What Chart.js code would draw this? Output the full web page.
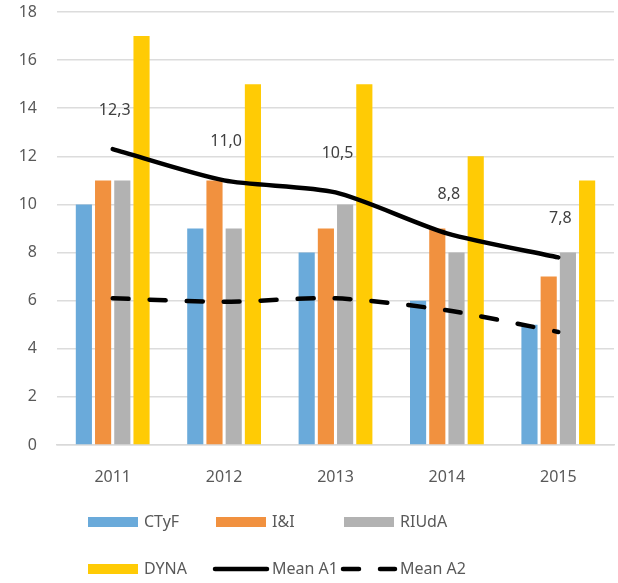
<!DOCTYPE html>
<html>
<head>
<meta charset="utf-8">
<script src="https://cdn.jsdelivr.net/npm/chart.js@4"></script>
<style>
  html, body { margin: 0; padding: 0; background: #fff; }
  #wrap { width: 618px; height: 583px; }
</style>
</head>
<body>
<div id="wrap"><canvas id="chart" width="618" height="583"></canvas></div>
<script>
const years = ["2011", "2012", "2013", "2014", "2015"];
const ctyf = [10, 9, 8, 6, 5];
const iei = [11, 11, 9, 9, 7];
const riuda = [11, 9, 10, 8, 8];
const dyna = [17, 15, 15, 12, 11];
const meanA1 = [12.3, 11.0, 10.5, 8.8, 7.8];
const meanA2 = [6.1, 5.95, 6.1, 5.6, 4.7];
const yTicks = [0, 2, 4, 6, 8, 10, 12, 14, 16, 18];

const FONT = "'Noto Sans', 'Open Sans', sans-serif";
const TEXT = "#595959";

// etiquetas de Mean A1 encima de cada punto
const lineLabels = {
    id: "lineLabels",
    afterDatasetsDraw(chart) {
        const ctx = chart.ctx;
        const meta = chart.getDatasetMeta(4);
        ctx.save();
        ctx.font = "16px " + FONT;
        ctx.fillStyle = "#404040";
        ctx.textAlign = "center";
        ctx.textBaseline = "middle";
        meta.data.forEach((pt, i) => {
            const txt = meanA1[i].toFixed(1).replace(".", ",");
            ctx.fillText(txt, pt.x + 2, pt.y - 39);
        });
        ctx.restore();
    }
};

// leyenda en 3 columnas como en Excel
const gridLegend = {
    id: "gridLegend",
    afterDraw(chart) {
        const ctx = chart.ctx;
        const sets = chart.data.datasets;
        const colX = [88, 216, 344];
        const rowY = [522, 569];
        ctx.save();
        ctx.font = "16px " + FONT;
        ctx.textBaseline = "middle";
        sets.forEach((ds, i) => {
            const x = colX[i % 3];
            const y = rowY[Math.floor(i / 3)];
            if (ds.type === "line") {
                ctx.strokeStyle = ds.borderColor;
                ctx.lineWidth = ds.borderWidth;
                ctx.lineCap = "round";
                ctx.setLineDash(ds.borderDash || []);
                ctx.beginPath();
                ctx.moveTo(x - 1, y);
                ctx.lineTo(x + 51, y);
                ctx.stroke();
                ctx.setLineDash([]);
            } else {
                ctx.fillStyle = ds.backgroundColor;
                ctx.fillRect(x, y - 5, 50, 10);
            }
            ctx.fillStyle = TEXT;
            ctx.fillText(ds.label, x + 56, y);
        });
        ctx.restore();
    }
};

const barOpts = { categoryPercentage: 0.69, barPercentage: 0.84, order: 2 };

new Chart(document.getElementById("chart"), {
    type: "bar",
    data: {
        labels: years,
        datasets: [
            { label: "CTyF", data: ctyf, backgroundColor: "#6AAADA", ...barOpts },
            { label: "I&I", data: iei, backgroundColor: "#F1913F", ...barOpts },
            { label: "RIUdA", data: riuda, backgroundColor: "#B2B2B2", ...barOpts },
            { label: "DYNA", data: dyna, backgroundColor: "#FFCB05", ...barOpts },
            {
                type: "line", label: "Mean A1", data: meanA1,
                borderColor: "#000", borderWidth: 4.5, tension: 0.25,
                pointRadius: 0, borderCapStyle: "round", order: 0
            },
            {
                type: "line", label: "Mean A2", data: meanA2,
                borderColor: "#000", borderWidth: 4.5, tension: 0.25,
                borderDash: [16, 21], pointRadius: 0, borderCapStyle: "round", order: 0
            }
        ]
    },
    options: {
        responsive: false,
        animation: false,
        layout: { padding: { top: 0, right: 4, left: 0, bottom: 0 } },
        plugins: {
            legend: { display: false },
            tooltip: { enabled: false }
        },
        scales: {
            x: {
                grid: { display: false },
                border: { color: "#D9D9D9", width: 1.5 },
                ticks: { color: TEXT, font: { family: FONT, size: 16 }, padding: 15 },
                afterFit(scale) {
                    scale.height = 138;
                    scale.paddingLeft = 0;
                    scale.paddingRight = 0;
                }
            },
            y: {
                min: 0, max: 18,
                afterBuildTicks(scale) { scale.ticks = yTicks.map(v => ({ value: v })); },
                grid: { color: "#DCDCDC", lineWidth: 1.5, drawTicks: false },
                border: { display: false },
                ticks: { color: TEXT, font: { family: FONT, size: 16 }, padding: 20 },
                afterFit(scale) {
                    scale.width = 57;
                    scale.paddingTop = 12;
                    scale.paddingBottom = 0;
                }
            }
        }
    },
    plugins: [lineLabels, gridLegend]
});
</script>
</body>
</html>
